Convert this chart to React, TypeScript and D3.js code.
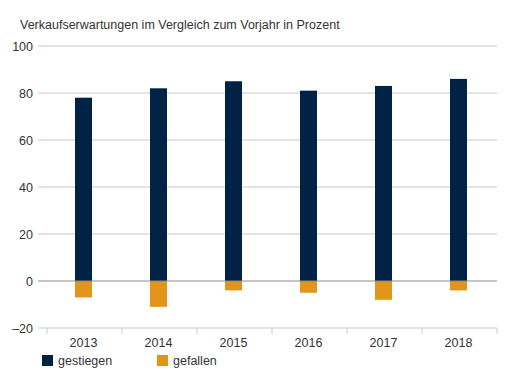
import { useEffect, useRef } from 'react';
import * as d3 from 'd3';

const WIDTH = 517;
const HEIGHT = 384;

const MARGIN = { top: 46, right: 20, bottom: 56, left: 47 };

const years = ['2013', '2014', '2015', '2016', '2017', '2018'];
const gestiegen = [78, 82, 85, 81, 83, 86];
const gefallen = [-7, -11, -4, -5, -8, -4];
const yTicks = [-20, 0, 20, 40, 60, 80, 100];

const NAVY = '#002245';
const ORANGE = '#e3941b';
const FONT = '"Liberation Sans", Arial, sans-serif';

function App() {
  const svgRef = useRef(null);

  useEffect(() => {
    const svg = d3.select(svgRef.current);
    svg.selectAll('*').remove();

    const x = d3.scaleBand()
      .domain(years)
      .range([MARGIN.left, WIDTH - MARGIN.right]);

    const y = d3.scaleLinear()
      .domain([-20, 100])
      .range([HEIGHT - MARGIN.bottom, MARGIN.top]);

    const gridLeft = 38;
    const barW = 17;

    svg.append('text')
      .attr('x', 20)
      .attr('y', 29)
      .attr('font-size', 12.5)
      .attr('fill', '#333')
      .text('Verkaufserwartungen im Vergleich zum Vorjahr in Prozent');

    // gridlines
    svg.append('g')
      .selectAll('line')
      .data(yTicks.filter((t) => t !== 0 && t !== -20))
      .join('line')
      .attr('x1', gridLeft)
      .attr('x2', WIDTH - MARGIN.right)
      .attr('y1', (d) => y(d))
      .attr('y2', (d) => y(d))
      .attr('stroke', '#c8c8c8')
      .attr('stroke-width', 1);

    // y labels
    svg.append('g')
      .selectAll('text')
      .data(yTicks)
      .join('text')
      .attr('x', 33)
      .attr('y', (d) => y(d) + 4.5)
      .attr('text-anchor', 'end')
      .attr('font-size', 12.5)
      .attr('fill', '#333')
      .text((d) => (d < 0 ? `\u2013${Math.abs(d)}` : d));

    // bars
    svg.append('g')
      .selectAll('rect')
      .data(years)
      .join('rect')
      .attr('x', (d) => (x(d) || 0) + x.bandwidth() / 2 - barW / 2 - 1)
      .attr('width', barW)
      .attr('y', (d, i) => y(gestiegen[i]))
      .attr('height', (d, i) => y(0) - y(gestiegen[i]))
      .attr('fill', NAVY);

    svg.append('g')
      .selectAll('rect')
      .data(years)
      .join('rect')
      .attr('x', (d) => (x(d) || 0) + x.bandwidth() / 2 - barW / 2 - 1)
      .attr('width', barW)
      .attr('y', y(0))
      .attr('height', (d, i) => y(gefallen[i]) - y(0))
      .attr('fill', ORANGE);

    // zero line
    svg.append('line')
      .attr('x1', gridLeft)
      .attr('x2', WIDTH - MARGIN.right)
      .attr('y1', y(0))
      .attr('y2', y(0))
      .attr('stroke', '#8a8a8a')
      .attr('stroke-width', 1);

    // bottom axis
    const yb = y(-20);
    svg.append('line')
      .attr('x1', gridLeft)
      .attr('x2', WIDTH - MARGIN.right)
      .attr('y1', yb)
      .attr('y2', yb)
      .attr('stroke', '#c6ccd6')
      .attr('stroke-width', 1);

    const tickPos = years.map((d) => x(d) || 0).concat([WIDTH - MARGIN.right]);
    svg.append('g')
      .selectAll('line')
      .data(tickPos)
      .join('line')
      .attr('x1', (d) => d)
      .attr('x2', (d) => d)
      .attr('y1', yb)
      .attr('y2', yb + 6)
      .attr('stroke', '#c6ccd6')
      .attr('stroke-width', 1);

    svg.append('g')
      .selectAll('text')
      .data(years)
      .join('text')
      .attr('x', (d) => (x(d) || 0) + x.bandwidth() / 2 - 1)
      .attr('y', yb + 19)
      .attr('text-anchor', 'middle')
      .attr('font-size', 12.5)
      .attr('fill', '#333')
      .text((d) => d);

    // legend
    const legend = [
      { label: 'gestiegen', color: NAVY, x: 42 },
      { label: 'gefallen', color: ORANGE, x: 157 },
    ];
    const lg = svg.append('g');
    legend.forEach((l) => {
      lg.append('rect')
        .attr('x', l.x)
        .attr('y', 355)
        .attr('width', 11)
        .attr('height', 11)
        .attr('fill', l.color);
      lg.append('text')
        .attr('x', l.x + 16)
        .attr('y', 364.5)
        .attr('font-size', 12.5)
        .attr('fill', '#333')
        .text(l.label);
    });
  }, []);

  return (
    <svg
      ref={svgRef}
      width={WIDTH}
      height={HEIGHT}
      style={{ position: 'absolute', left: 0, top: 0, fontFamily: FONT }}
    />
  );
}

export default App;
